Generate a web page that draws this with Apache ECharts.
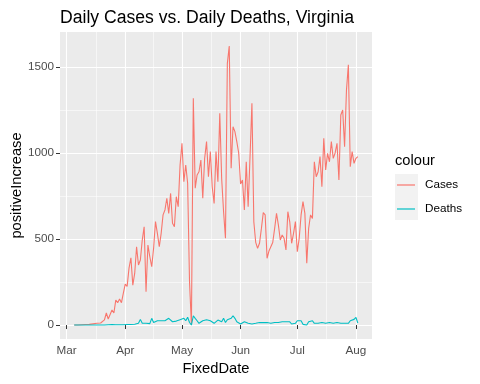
<!DOCTYPE html>
<html><head><meta charset="utf-8">
<script src="https://cdn.jsdelivr.net/npm/echarts@6/dist/echarts.min.js"></script>
<style>html,body{margin:0;padding:0;background:#fff}#c{width:480px;height:384px}</style>
</head><body><div id="c"></div>
<script>
// ---- data ----
const startDate = '2020-03-05';
const cases = [
  0,0,0,6,2,5,3,8,4,10,
  7,12,10,15,12,19,30,70,35,45,
  87,70,145,130,151,130,186,238,225,331,
  391,232,300,455,349,378,494,571,194,465,
  397,339,446,601,533,455,533,640,669,737,
  649,765,591,571,746,688,930,1056,833,930,
  824,250,0,1318,795,872,891,959,737,969,
  1066,862,1008,804,707,1008,833,1231,850,660,
  504,1521,1622,911,1153,1124,1066,1000,820,843,
  669,949,688,979,1289,600,480,446,475,560,
  653,640,388,430,455,480,560,649,581,494,
  523,504,436,659,600,475,533,601,426,504,
  640,717,649,359,562,640,620,949,862,891,
  979,804,1085,901,998,949,1066,969,1000,1056,
  843,1221,1250,1037,1366,1512,920,1008,940,969,
  979
];
const deaths = [
  0,0,0,0,0,0,0,0,0,0,
  0,0,0,1,0,1,0,1,2,1,
  3,2,2,4,2,3,2,4,3,2,
  3,0,5,10,10,33,10,10,10,10,
  8,39,15,10,25,25,25,25,25,25,
  39,29,19,10,23,31,31,31,39,25,
  45,15,0,54,39,25,10,10,25,35,
  31,29,25,19,10,19,29,31,19,39,
  15,31,25,39,54,39,19,10,6,15,
  19,14,10,10,6,15,10,6,15,6,
  14,6,15,6,10,10,15,6,15,10,
  19,15,19,15,19,6,10,10,25,25,
  25,4,10,0,19,29,25,10,15,10,
  10,15,10,10,10,15,10,10,10,15,
  10,10,10,10,10,10,25,15,33,45,
  12
];
const monthTicks = ['2020-03-01','2020-04-01','2020-05-01','2020-06-01','2020-07-01','2020-08-01'];
const monthLabels = ['Mar','Apr','May','Jun','Jul','Aug'];
const yTicks = [0, 500, 1000, 1500];
const yMinorTicks = [250, 750, 1250];

// ---- derived ----
const DAY = 86400000;
const t0 = Date.parse(startDate + 'T00:00:00Z');
const times = cases.map((_, i) => t0 + i * DAY);
const majorX = monthTicks.map(d => Date.parse(d + 'T00:00:00Z'));
const minorX = majorX.slice(1).map((v, i) => (v + majorX[i]) / 2);
const xSpan = times[times.length - 1] - times[0];
const xMin = times[0] - 0.05 * xSpan, xMax = times[times.length - 1] + 0.05 * xSpan;
const allVals = cases.concat(deaths);
const yLo = Math.min(...allVals), yHi = Math.max(...allVals);
const yMin = yLo - 0.05 * (yHi - yLo), yMax = yHi + 0.05 * (yHi - yLo);

const FONT = '"Liberation Sans", Arial, Helvetica, sans-serif';
function monthLabel(v) {
  let best = 0, bd = Infinity;
  majorX.forEach((m, i) => { const d = Math.abs(m - v); if (d < bd) { bd = d; best = i; } });
  return monthLabels[best];
}

const chart = echarts.init(document.getElementById('c'), null, {renderer: 'canvas'});
chart.setOption({
  animation: false,
  backgroundColor: '#ffffff',
  textStyle: {fontFamily: FONT},
  title: [
    {text: 'Daily Cases vs. Daily Deaths, Virginia', left: 60, top: 8, padding: 0,
     textStyle: {fontFamily: FONT, fontSize: 17.6, fontWeight: 'normal', color: '#000', lineHeight: 21}},
    {text: 'colour', left: 395, top: 153, padding: 0,
     textStyle: {fontFamily: FONT, fontSize: 14.7, fontWeight: 'normal', color: '#000', lineHeight: 16}}
  ],
  graphic: [
    {type: 'rect', left: 395, top: 174, z: 1, shape: {width: 23, height: 23}, style: {fill: '#F2F2F2'}},
    {type: 'rect', left: 395, top: 197, z: 1, shape: {width: 23, height: 23}, style: {fill: '#F2F2F2'}}
  ],
  legend: {
    orient: 'vertical', left: 397, top: 173, padding: 0, itemGap: 0,
    itemWidth: 18, itemHeight: 1.2, icon: 'rect', z: 5,
    textStyle: {fontFamily: FONT, fontSize: 11.7, color: '#000', lineHeight: 24, padding: [0, 0, 0, 5]},
    data: ['Cases', 'Deaths']
  },
  grid: {left: 60, right: 108, top: 32, bottom: 45, show: true, backgroundColor: '#EBEBEB', borderWidth: 0,
         containLabel: false, outerBoundsMode: 'none'},
  xAxis: [
    {type: 'value', min: xMin, max: xMax, position: 'bottom',
     name: 'FixedDate', nameLocation: 'middle', nameGap: 22, nameMoveOverlap: false,
     nameTextStyle: {fontFamily: FONT, fontSize: 14.7, color: '#000'},
     axisLine: {show: false},
     axisTick: {show: true, length: 4, customValues: majorX, lineStyle: {color: '#333333', width: 1}},
     axisLabel: {customValues: majorX, formatter: monthLabel, color: '#4D4D4D', fontSize: 11.7, fontFamily: FONT, margin: 6},
     splitLine: {show: true, lineStyle: {color: '#FFFFFF', width: 1.1}}},
    {type: 'value', min: xMin, max: xMax, position: 'top',
     axisLine: {show: false}, axisTick: {show: false, customValues: minorX}, axisLabel: {show: false},
     splitLine: {show: true, lineStyle: {color: '#FFFFFF', width: 0.55}}}
  ],
  yAxis: [
    {type: 'value', min: yMin, max: yMax, position: 'left',
     name: 'positiveIncrease', nameLocation: 'middle', nameGap: 36, nameMoveOverlap: false,
     nameTextStyle: {fontFamily: FONT, fontSize: 14.7, color: '#000'},
     axisLine: {show: false},
     axisTick: {show: true, length: 4, customValues: yTicks, lineStyle: {color: '#333333', width: 1}},
     axisLabel: {customValues: yTicks, formatter: v => String(Math.round(v)), color: '#4D4D4D', fontSize: 11.7, fontFamily: FONT, margin: 6},
     splitLine: {show: true, lineStyle: {color: '#FFFFFF', width: 1.1}}},
    {type: 'value', min: yMin, max: yMax, position: 'right',
     axisLine: {show: false}, axisTick: {show: false, customValues: yMinorTicks}, axisLabel: {show: false},
     splitLine: {show: true, lineStyle: {color: '#FFFFFF', width: 0.55}}}
  ],
  series: [
    {name: 'Cases', type: 'line', xAxisIndex: 0, yAxisIndex: 0, showSymbol: false, symbol: 'none', silent: true,
     color: '#F8766D', lineStyle: {color: '#F8766D', width: 1.1},
     data: times.map((t, i) => [t, cases[i]])},
    {name: 'Deaths', type: 'line', xAxisIndex: 0, yAxisIndex: 0, showSymbol: false, symbol: 'none', silent: true,
     color: '#00BFC4', lineStyle: {color: '#00BFC4', width: 1.1},
     data: times.map((t, i) => [t, deaths[i]])}
  ]
});
</script></body></html>
